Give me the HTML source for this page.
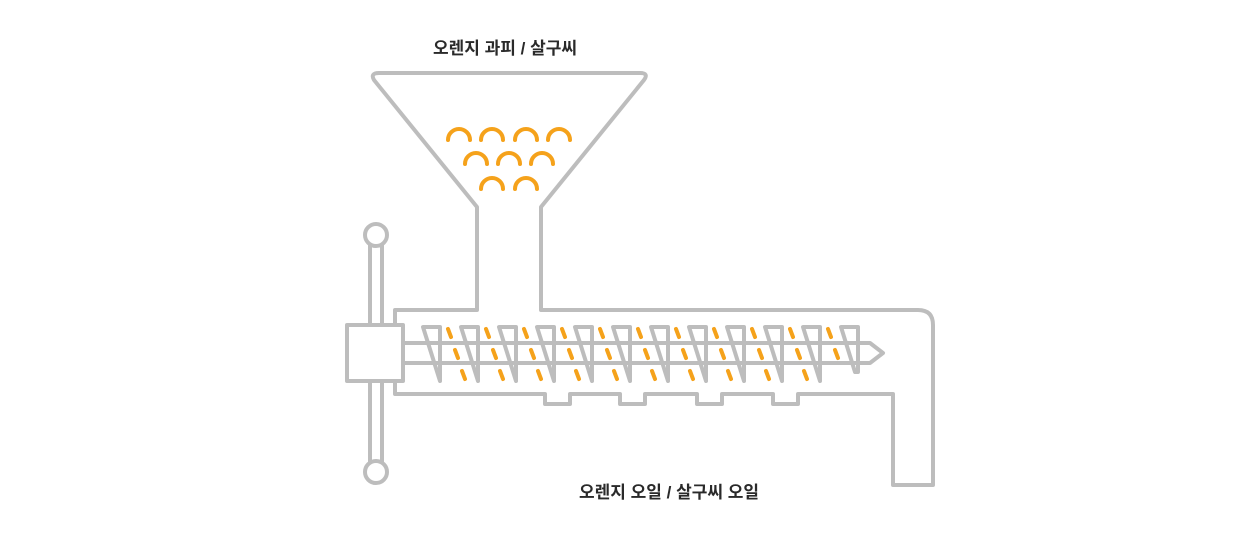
<!DOCTYPE html>
<html><head><meta charset="utf-8"><style>
html,body{margin:0;padding:0;background:#fff;width:1260px;height:560px;overflow:hidden}
svg{display:block}
text{font-family:"Liberation Sans","Noto Sans CJK KR",sans-serif;font-weight:bold;fill:#2a2a2a;font-size:17px}
</style></head><body>
<svg width="1260" height="560" viewBox="0 0 1260 560" xmlns="http://www.w3.org/2000/svg">
<text x="505" y="54" text-anchor="middle">오렌지 과피 / 살구씨</text>
<text x="669" y="498" text-anchor="middle">오렌지 오일 / 살구씨 오일</text>
<g fill="none" stroke="#bdbdbd" stroke-width="4" stroke-linejoin="round">
<path d="M395,323 V310 H477 V207 L374,80 Q370,73 379,73 H640 Q649,73 644,80 L541,207 V310 H918 Q933,310 933,325 V485 H893 V394 H798 V404 H773 V394 H722 V404 H697 V394 H645 V404 H620 V394 H570 V404 H545 V394 H395 V383"/>
<rect x="347" y="325" width="56" height="56"/>
<line x1="370" y1="245" x2="370" y2="325"/><line x1="382" y1="245" x2="382" y2="325"/>
<line x1="370" y1="381" x2="370" y2="462"/><line x1="382" y1="381" x2="382" y2="462"/>
<circle cx="376" cy="235" r="11" fill="#fff"/>
<circle cx="376" cy="472" r="11" fill="#fff"/>
<path d="M403,343 H870 L883,353 L870,363 H403"/>
<path d="M423,327 H440 V381 Z"/><path d="M461,327 H478 V381 Z"/><path d="M499,327 H516 V381 Z"/>
<path d="M537,327 H554 V381 Z"/><path d="M575,327 H592 V381 Z"/><path d="M613,327 H630 V381 Z"/>
<path d="M651,327 H668 V381 Z"/><path d="M689,327 H706 V381 Z"/><path d="M727,327 H744 V381 Z"/>
<path d="M765,327 H782 V381 Z"/><path d="M803,327 H820 V381 Z"/><path d="M841,327 H858 V372 L855,372 Z"/>
</g>
<g stroke="#f5a21b" stroke-width="4" stroke-linecap="round" fill="none">
<g id="d"><line x1="448" y1="329" x2="451" y2="337"/><line x1="455" y1="350" x2="458" y2="358"/><line x1="462" y1="371" x2="465" y2="379"/></g>
<use href="#d" x="38"/><use href="#d" x="76"/><use href="#d" x="114"/><use href="#d" x="152"/>
<use href="#d" x="190"/><use href="#d" x="228"/><use href="#d" x="266"/><use href="#d" x="304"/><use href="#d" x="342"/>
<line x1="828" y1="329" x2="831" y2="337"/><line x1="835" y1="350" x2="838" y2="358"/>
<g stroke-width="4">
<path d="M448,140 A11,11 0 0 1 470,140"/><path d="M481,140 A11,11 0 0 1 503,140"/><path d="M515,140 A11,11 0 0 1 537,140"/><path d="M548,140 A11,11 0 0 1 570,140"/>
<path d="M465,164 A11,11 0 0 1 487,164"/><path d="M498,164 A11,11 0 0 1 520,164"/><path d="M531,164 A11,11 0 0 1 553,164"/>
<path d="M481,189 A11,11 0 0 1 503,189"/><path d="M515,189 A11,11 0 0 1 537,189"/>
</g>
</g>
</svg>
</body></html>
